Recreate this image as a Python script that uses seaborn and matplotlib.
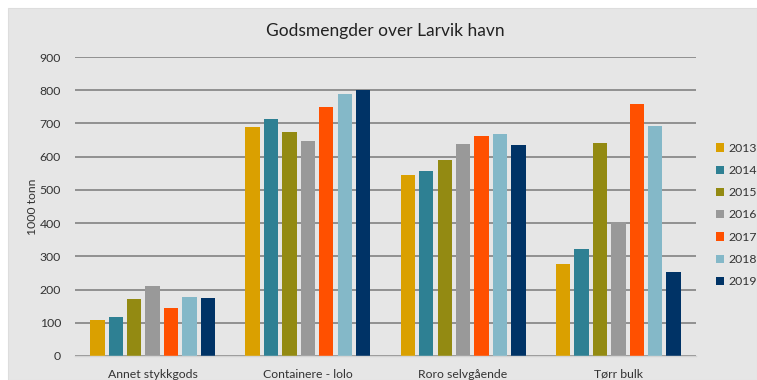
import matplotlib
matplotlib.use("Agg")
import matplotlib.pyplot as plt
import seaborn as sns
import pandas as pd
from matplotlib.patches import Rectangle

categories = ["Annet stykkgods", "Containere - lolo", "Roro selvgående", "Tørr bulk"]
years = ["2013", "2014", "2015", "2016", "2017", "2018", "2019"]
v2013 = [109, 690, 546, 276]
v2014 = [117, 712, 558, 322]
v2015 = [173, 674, 591, 640]
v2016 = [212, 647, 637, 403]
v2017 = [143, 750, 662, 759]
v2018 = [179, 790, 667, 693]
v2019 = [175, 802, 635, 253]
colors = ["#DAA000", "#2E8093", "#938A12", "#999999", "#FF5000", "#84B8C8", "#003366"]

series = [v2013, v2014, v2015, v2016, v2017, v2018, v2019]
rows = []
for y, vals in zip(years, series):
    for c, v in zip(categories, vals):
        rows.append({"Kategori": c, "År": y, "Verdi": v})
df = pd.DataFrame(rows)

sns.set_theme(style="white")
plt.rcParams["font.family"] = ["Lato", "DejaVu Sans"]

W, H = 757, 380
fig = plt.figure(figsize=(W / 100, H / 100), dpi=100)
fig.patch.set_facecolor("white")
bg = "#E6E6E6"
fig.patches.append(Rectangle((8 / W, 0), 1 - 8 / W, 1 - 8 / H, transform=fig.transFigure,
                             facecolor=bg, edgecolor="#DDDDDD", linewidth=0.8, zorder=-10))

ax = fig.add_axes([75 / W, 1 - 356 / H, (696 - 75) / W, (356 - 57) / H])
ax.set_facecolor(bg)
ax.set_zorder(1)

sns.barplot(data=df, x="Kategori", y="Verdi", hue="År", palette=colors, ax=ax,
            width=0.83, gap=0.22, errorbar=None, saturation=1, linewidth=0)

ax.set_ylim(0, 900)
ax.set_yticks(range(0, 901, 100))
ax.yaxis.grid(True, color="#8A8A8A", linewidth=1.3)
ax.set_axisbelow(True)
for s in ["top", "right", "left"]:
    ax.spines[s].set_visible(False)
ax.spines["bottom"].set_color("#D4D4D4")
ax.spines["bottom"].set_linewidth(1.0)
ax.tick_params(axis="both", length=0, labelsize=8.8, colors="#333333")
ax.tick_params(axis="y", pad=10)
ax.tick_params(axis="x", pad=9)
ax.set_xlabel("")
ax.set_ylabel("1000 tonn", fontsize=8.8, color="#333333", labelpad=1)

fig.text(385 / W, 1 - 31 / H, "Godsmengder over Larvik havn", ha="center", va="center",
         fontsize=12.5, color="#222222")

handles, labels = ax.get_legend_handles_labels()
ax.legend(handles, labels, loc="center left", bbox_to_anchor=(716 / W, 1 - 215 / H),
          bbox_transform=fig.transFigure, frameon=False, fontsize=8.8,
          handlelength=0.65, handleheight=0.65, handletextpad=0.35, labelspacing=0.92,
          labelcolor="#333333", borderaxespad=0, borderpad=0)

fig.savefig("out.png", dpi=100, facecolor="white")
